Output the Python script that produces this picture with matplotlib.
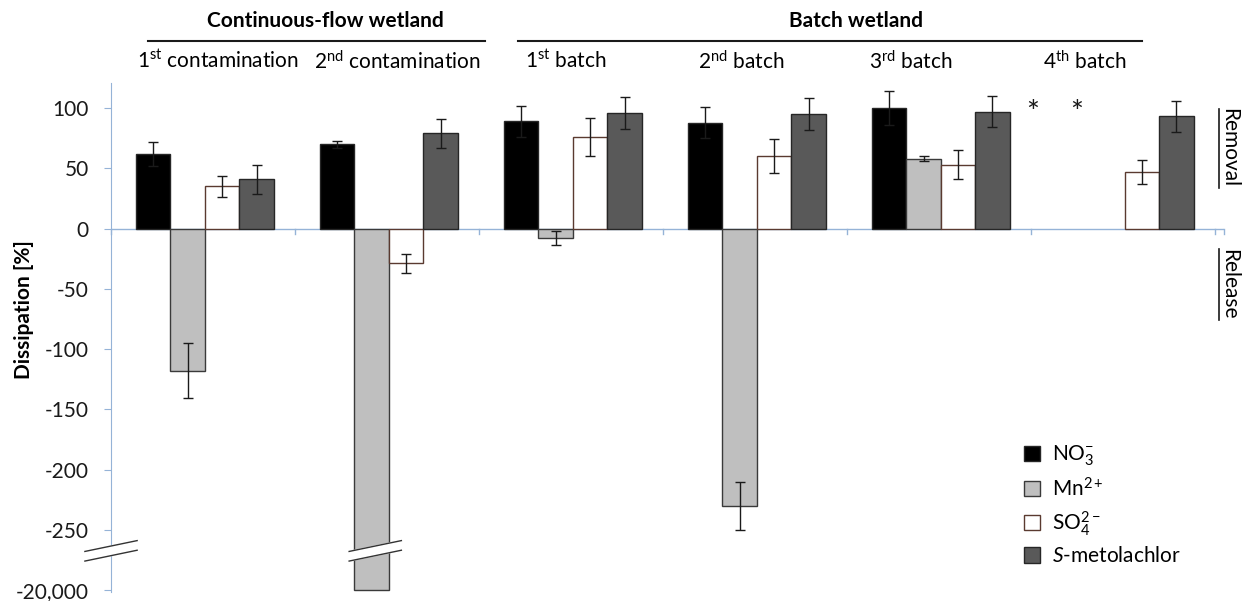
import numpy as np
import matplotlib
matplotlib.use("Agg")
import matplotlib.pyplot as plt

plt.rcParams['font.family'] = ['Lato', 'DejaVu Sans']
plt.rcParams['mathtext.fontset'] = 'custom'
plt.rcParams['mathtext.rm'] = 'Lato'
plt.rcParams['mathtext.it'] = 'Lato:italic'
plt.rcParams['mathtext.bf'] = 'Lato:bold'

# ---------------- data ----------------
categories = ["1$^{\\mathrm{st}}$ contamination", "2$^{\\mathrm{nd}}$ contamination",
              "1$^{\\mathrm{st}}$ batch", "2$^{\\mathrm{nd}}$ batch",
              "3$^{\\mathrm{rd}}$ batch", "4$^{\\mathrm{th}}$ batch"]
groups = ["Continuous-flow wetland", "Batch wetland"]
series = ["NO$_3^{-}$", "Mn$^{2+}$", "SO$_4^{2-}$", "$S$-metolachlor"]
no3 = [62, 70, 89, 88, 100, np.nan]
no3_err = [10, 3, 13, 13, 14, np.nan]
mn = [-118, -20000, -8, -230, 58, np.nan]
mn_err = [23, np.nan, 6, 20, 2, np.nan]
so4 = [35, -29, 76, 60, 53, 47]
so4_err = [9, 8, 16, 14, 12, 10]
smet = [41, 79, 96, 95, 97, 93]
smet_err = [12, 12, 13, 13, 13, 13]
ytick_vals = [-20000, -250, -200, -150, -100, -50, 0, 50, 100]
ytick_labels = ["-20,000", "-250", "-200", "-150", "-100", "-50", "0", "50", "100"]

colors = ["#000000", "#bfbfbf", "#ffffff", "#595959"]
edges = ["#262626", "#3a3a3a", "#5a3a30", "#262626"]


def to_axis(v):
    v = np.asarray(v, dtype=float)
    return np.where(v >= -250, v, -250 + (v + 250) * (50.0 / 19750.0))


fig = plt.figure(figsize=(12.46, 6.01), dpi=100)
ax = fig.add_axes([0.0891, 0.0143, 0.8933, 0.848])

x = np.arange(len(categories))
w = 0.1875
vals = [no3, mn, so4, smet]
errs = [no3_err, mn_err, so4_err, smet_err]
handles = []
for k in range(4):
    pos = x + (k - 1.5) * w + 0.01
    h = to_axis(vals[k])
    b = ax.bar(pos, h, width=w, color=colors[k], edgecolor=edges[k], linewidth=1.0,
               label=series[k], zorder=3)
    handles.append(b)
    ax.errorbar(pos, h, yerr=errs[k], fmt='none', ecolor='#1a1a1a', elinewidth=1.0,
                capsize=3.5, capthick=1.0, zorder=4)

axis_col = '#95b3d7'
ax.set_xlim(-0.5, 5.55)
ax.set_ylim(-302, 121)
for s in ['top', 'right', 'bottom']:
    ax.spines[s].set_visible(False)
ax.spines['left'].set_color(axis_col)
ax.spines['left'].set_position(('data', -0.5))
ax.set_xticks([])
ax.set_yticks(to_axis(ytick_vals))
ax.set_yticklabels(ytick_labels, fontsize=15, color='#1a1a1a')
ax.tick_params(axis='y', direction='out', length=5, color=axis_col, pad=11)
ax.axhline(0, color=axis_col, lw=1.0, zorder=2)
for b in np.arange(-0.5, 6.0, 1.0):
    ax.plot([b, b], [0, -4.5], color=axis_col, lw=1.0, zorder=2, clip_on=False)
ax.plot([5.55, 5.55], [0, -4.5], color=axis_col, lw=1.0, zorder=2, clip_on=False)

# axis break marks
for cx in [-0.5, 1 - 0.5 * w + 0.03]:
    dx = 0.142
    xs = [cx - dx, cx + dx, cx + dx, cx - dx]
    ys = [-268, -259, -267, -276]
    ax.fill(xs, ys, color='white', zorder=5, clip_on=False)
    ax.plot([cx - dx, cx + dx], [-268, -259], color='#333333', lw=1.0, zorder=6, clip_on=False)
    ax.plot([cx - dx, cx + dx], [-276, -267], color='#333333', lw=1.0, zorder=6, clip_on=False)

# asterisks for missing 4th batch values
for ax_x in [4.51, 4.75]:
    ax.text(ax_x, 96, "*", fontsize=22, ha='center', va='center', color='#1a1a1a')

# group headers
ax.plot([-0.299, 1.533], [156, 156], color='#1a1a1a', lw=1.5, clip_on=False)
ax.plot([1.712, 5.103], [156, 156], color='#1a1a1a', lw=1.5, clip_on=False)
ax.text(0.663, 172, groups[0], fontsize=15, fontweight='bold', ha='center', va='center')
ax.text(3.549, 172, groups[1], fontsize=15, fontweight='bold', ha='center', va='center')

sub_x = [0.08, 1.054, 1.973, 2.924, 3.848, 4.793]
for sx, lab in zip(sub_x, categories):
    ax.text(sx, 139, lab, fontsize=15, ha='center', va='center')

# y label
fig.text(0.019, 0.485, "Dissipation [%]", rotation=90, fontsize=15, fontweight='bold',
         ha='center', va='center')

# Removal / Release
ax.text(5.575, 67, "Removal", rotation=-90, fontsize=15, ha='center', va='center', clip_on=False)
ax.text(5.575, -46, "Release", rotation=-90, fontsize=15, ha='center', va='center', clip_on=False)
ax.plot([5.52, 5.52], [99, 34], color='#1a1a1a', lw=1.2, clip_on=False)
ax.plot([5.52, 5.52], [-17, -76], color='#1a1a1a', lw=1.2, clip_on=False)

leg = ax.legend(handles=handles, labels=series, loc='upper left',
                bbox_to_anchor=(0.807, 0.293), bbox_transform=fig.transFigure,
                frameon=False, fontsize=15, handlelength=0.75, handleheight=0.75,
                labelspacing=0.42, handletextpad=0.6)

fig.savefig("out.png", dpi=100)
